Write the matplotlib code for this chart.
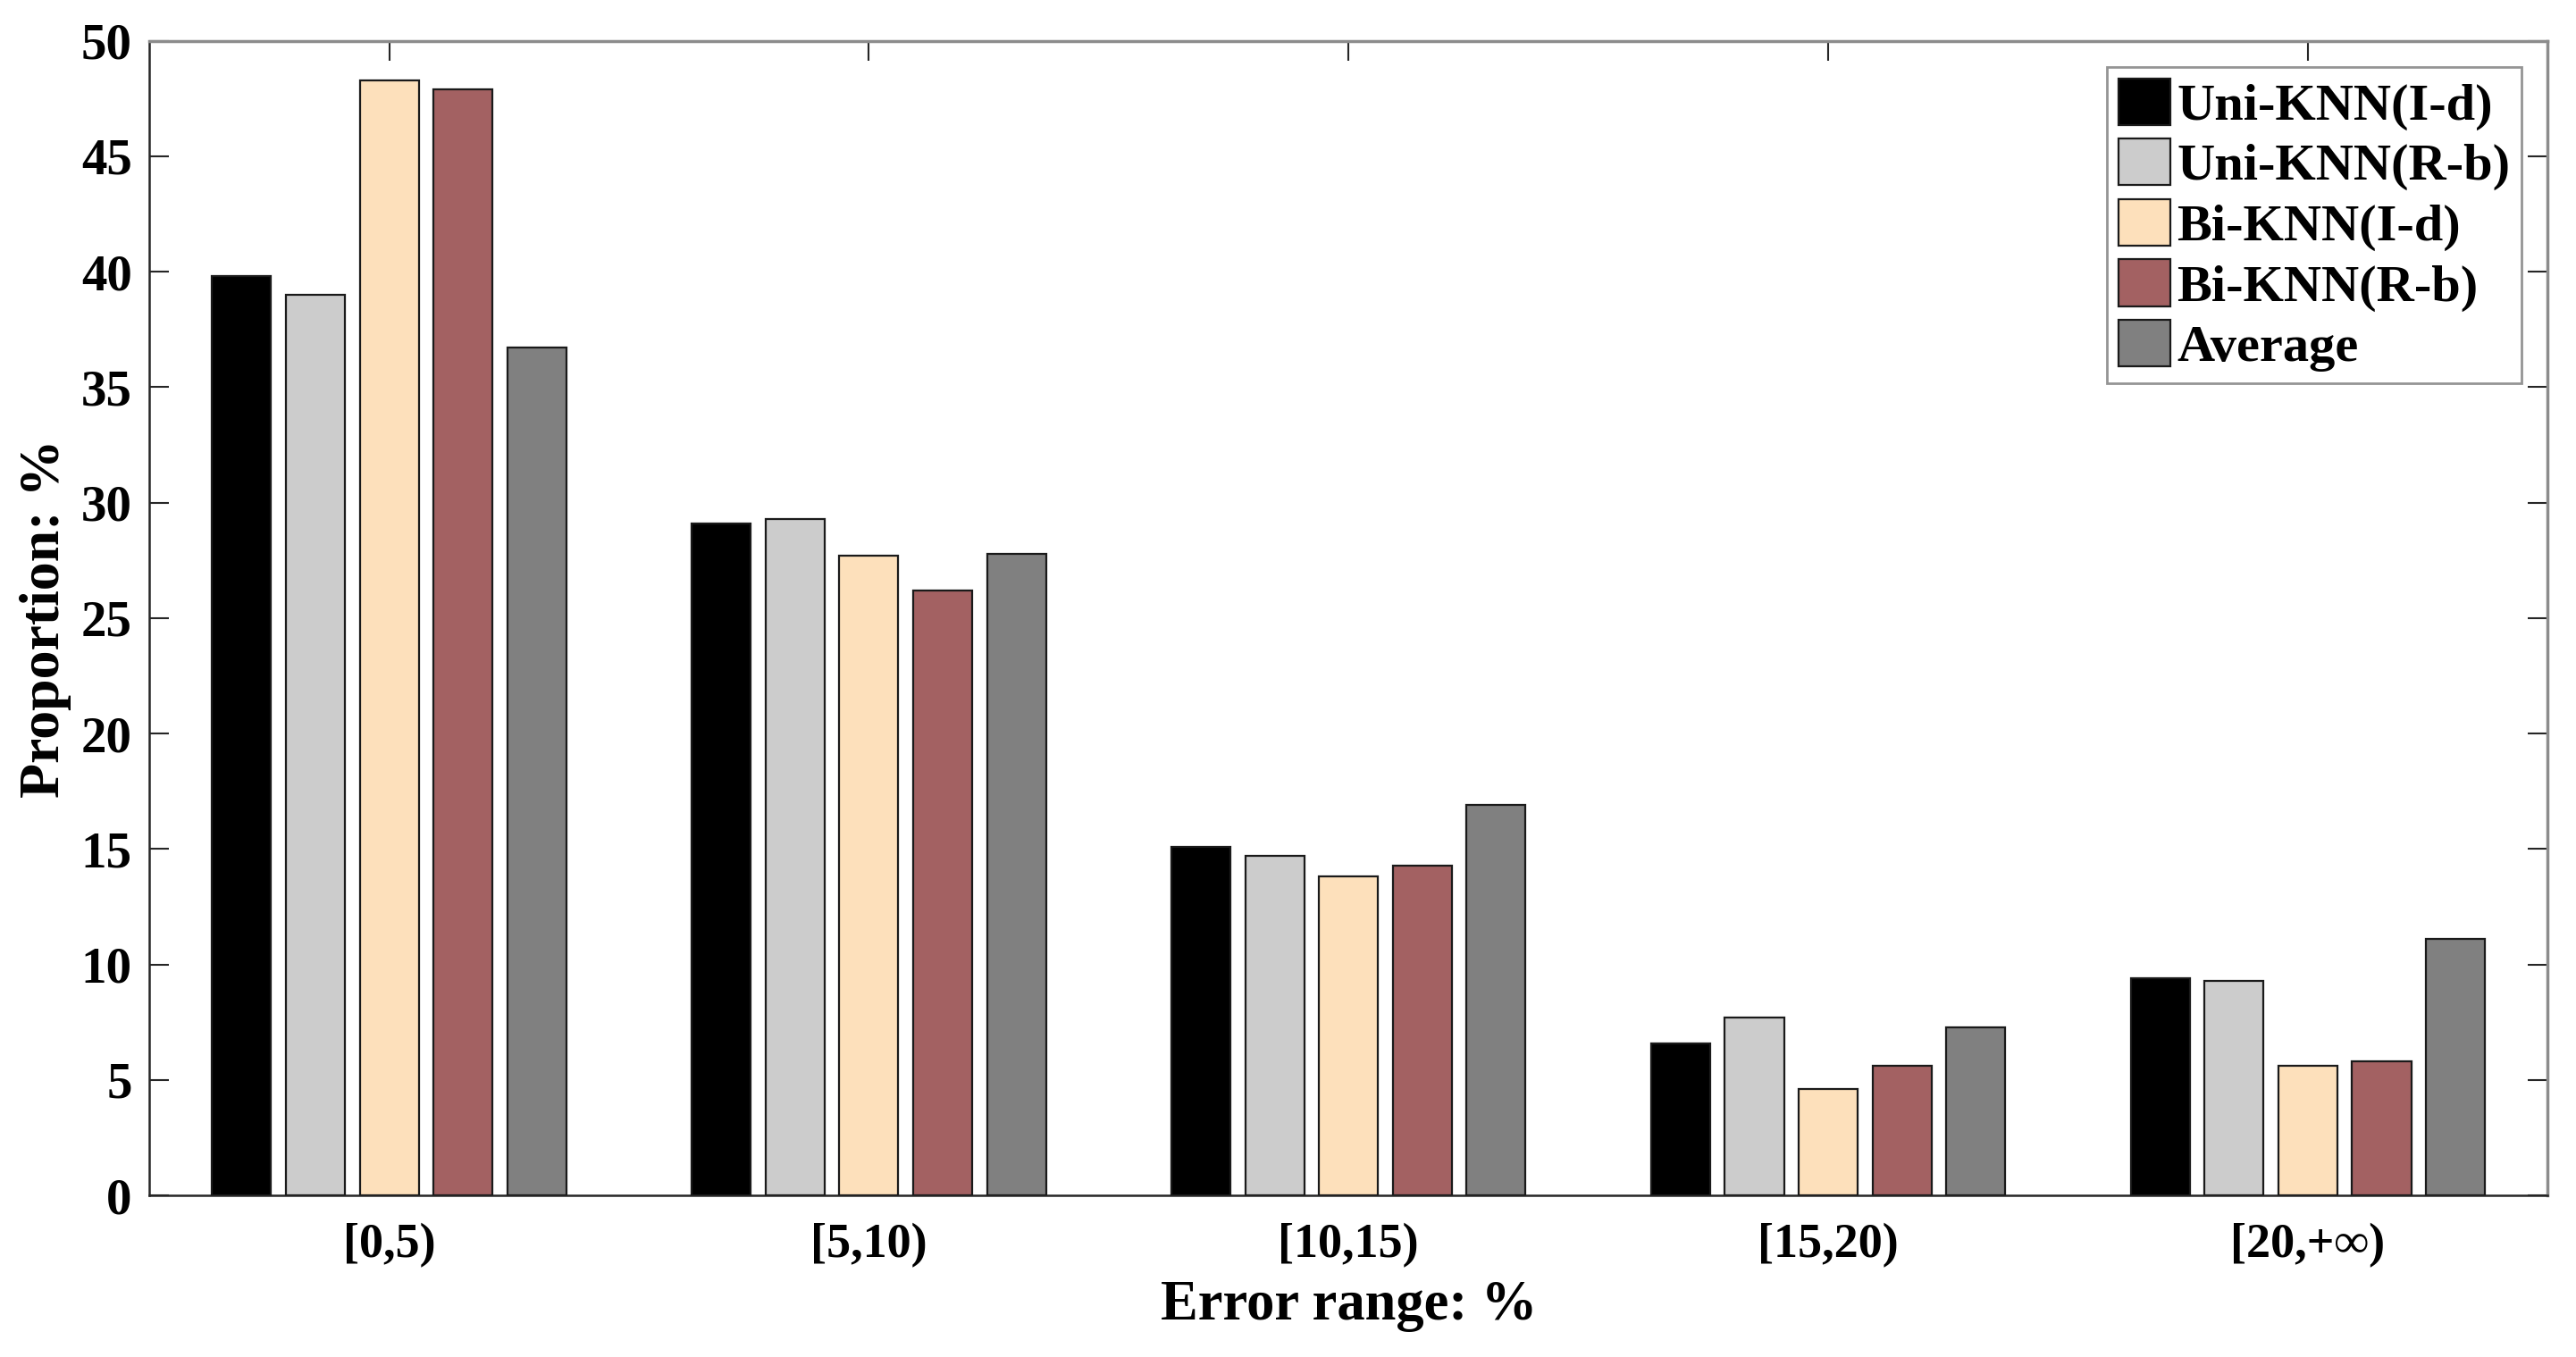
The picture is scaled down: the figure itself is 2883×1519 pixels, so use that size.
import matplotlib
matplotlib.use("Agg")
import matplotlib.pyplot as plt
import numpy as np

plt.rcParams["font.family"] = ["Liberation Serif", "DejaVu Serif"]
plt.rcParams["font.weight"] = "bold"

# --- data ---
categories = ["[0,5)", "[5,10)", "[10,15)", "[15,20)", "[20,+\u221e)"]
series = ["Uni-KNN(I-d)", "Uni-KNN(R-b)", "Bi-KNN(I-d)", "Bi-KNN(R-b)", "Average"]
uni_id = [39.8, 29.1, 15.1, 6.6, 9.4]
uni_rb = [39.0, 29.3, 14.7, 7.7, 9.3]
bi_id = [48.3, 27.7, 13.8, 4.6, 5.6]
bi_rb = [47.9, 26.2, 14.3, 5.6, 5.8]
average = [36.7, 27.8, 16.9, 7.3, 11.1]
values = [uni_id, uni_rb, bi_id, bi_rb, average]
colors = ["#000000", "#cccccc", "#fde0bb", "#a36162", "#808080"]

fig = plt.figure(figsize=(28.83, 15.19), dpi=100)
ax = fig.add_axes([0.058, 0.119, 0.931, 0.851])

x = np.arange(1, len(categories) + 1)
nb = len(series)
group_w = min(0.8, nb / (nb + 1.5))
pitch = group_w / nb
for i, (name, vals, c) in enumerate(zip(series, values, colors)):
    off = (i - (nb - 1) / 2) * pitch
    ax.bar(x + off, vals, pitch * 0.8, color=c, edgecolor="#1a1a1a",
           linewidth=1.6, label=name, zorder=3)

ax.set_xlim(0.5, 5.5)
ax.set_ylim(0, 50)
ax.set_yticks(np.arange(0, 51, 5))
ax.set_xticks(x)
ax.set_xticklabels(categories)
ax.tick_params(axis="both", direction="in", length=16, width=1.5,
               top=True, right=True, colors="#262626")
ax.tick_params(axis="x", labelsize=39, pad=22)
ax.tick_params(axis="y", labelsize=41, pad=14)
for lab in ax.get_xticklabels() + ax.get_yticklabels():
    lab.set_color("black")
    lab.set_fontweight("bold")

for s in ["left", "bottom"]:
    ax.spines[s].set_color("#262626")
    ax.spines[s].set_linewidth(1.8)
for s in ["top", "right"]:
    ax.spines[s].set_color("#8c8c8c")
    ax.spines[s].set_linewidth(2.5)

ax.set_xlabel("Error range: %", fontsize=45, fontweight="bold", labelpad=10)
ax.set_ylabel("Proportion: %", fontsize=46, fontweight="bold", labelpad=8)

leg = ax.legend(loc="upper right", fontsize=42, frameon=True, fancybox=False,
                handlelength=1.0, handleheight=1.0, handletextpad=0.12,
                borderpad=0.22, labelspacing=0.16, borderaxespad=0.5)
leg.get_frame().set_edgecolor("#7a7a7a")
leg.get_frame().set_linewidth(2.0)
for t in leg.get_texts():
    t.set_fontweight("bold")

fig.savefig("out.png", dpi=100, facecolor="white")
